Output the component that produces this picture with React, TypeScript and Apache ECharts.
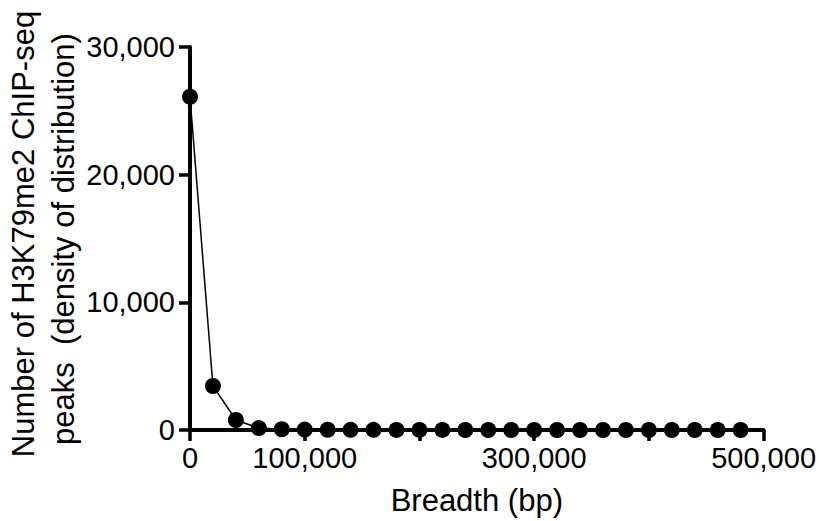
import React, { useEffect, useRef } from "react";
import * as echarts from "echarts";

const breadths = [
  0, 20000, 40000, 60000, 80000, 100000, 120000, 140000, 160000, 180000,
  200000, 220000, 240000, 260000, 280000, 300000, 320000, 340000, 360000,
  380000, 400000, 420000, 440000, 460000, 480000,
];
const peakCounts = [
  26100, 3450, 780, 150, 60, 30, 20, 15, 10, 8, 6, 5, 4, 3, 3, 2, 2, 2, 1, 1,
  1, 1, 1, 1, 1,
];
const xLabelled = [0, 100000, 300000, 500000];
const yTickValues = [0, 10000, 20000, 30000];

const yTitleLine1 = "Number of H3K79me2 ChIP-seq";
const yTitleLine2 = "peaks  (density of distribution)";
const xTitle = "Breadth (bp)";

const FONT = '"Liberation Sans", Arial, Helvetica, sans-serif';

const fmt = (v: number) => v.toLocaleString("en-US");

export default function App() {
  const ref = useRef<HTMLDivElement>(null);
  useEffect(() => {
    if (!ref.current) return;
    const chart = echarts.init(ref.current, undefined, { renderer: "svg" });
    const axisLineStyle = { color: "#000", width: 4 };
    chart.setOption({
      animation: false,
      backgroundColor: "#fff",
      grid: { left: 190, right: 53, top: 47, bottom: 90, containLabel: false },
      xAxis: {
        type: "value",
        min: 0,
        max: 500000,
        interval: 100000,
        name: xTitle,
        nameLocation: "middle",
        nameGap: 55,
        nameTextStyle: { fontFamily: FONT, fontSize: 31, color: "#000" },
        axisLine: { show: true, onZero: false, lineStyle: axisLineStyle },
        axisTick: { show: true, inside: false, length: 11, lineStyle: { color: "#000", width: 3.5 } },
        axisLabel: {
          margin: 13,
          fontFamily: FONT,
          fontSize: 29,
          color: "#000",
          showMinLabel: true,
          showMaxLabel: true,
          formatter: (v: number) => (xLabelled.indexOf(v) >= 0 ? fmt(v) : ""),
        },
        splitLine: { show: false },
      },
      yAxis: {
        type: "value",
        min: 0,
        max: 30000,
        interval: 10000,
        axisLine: { show: true, onZero: false, lineStyle: axisLineStyle },
        axisTick: { show: true, inside: false, length: 11, lineStyle: { color: "#000", width: 3.5 } },
        axisLabel: {
          margin: 15,
          fontFamily: FONT,
          fontSize: 29,
          color: "#000",
          formatter: (v: number) => (yTickValues.indexOf(v) >= 0 ? fmt(v) : ""),
        },
        splitLine: { show: false },
      },
      graphic: [
        {
          type: "text",
          x: 23,
          y: 234,
          rotation: Math.PI / 2,
          style: {
            text: yTitleLine1,
            font: `31px ${FONT}`,
            fill: "#000",
            align: "center",
            verticalAlign: "middle",
            textAlign: "center",
            textVerticalAlign: "middle",
          },
        },
        {
          type: "text",
          x: 63,
          y: 239,
          rotation: Math.PI / 2,
          style: {
            text: yTitleLine2,
            font: `31px ${FONT}`,
            fill: "#000",
            align: "center",
            verticalAlign: "middle",
            textAlign: "center",
            textVerticalAlign: "middle",
          },
        },
      ],
      series: [
        {
          type: "line",
          data: breadths.map((b, i) => [b, peakCounts[i]]),
          symbol: "circle",
          symbolSize: 16,
          lineStyle: { color: "#000", width: 1.5 },
          itemStyle: { color: "#000" },
          clip: false,
          z: 5,
        },
      ],
    });
    return () => chart.dispose();
  }, []);
  return (
    <div
      ref={ref}
      style={{ position: "fixed", left: 0, top: 0, width: 819, height: 521, background: "#fff" }}
    />
  );
}
